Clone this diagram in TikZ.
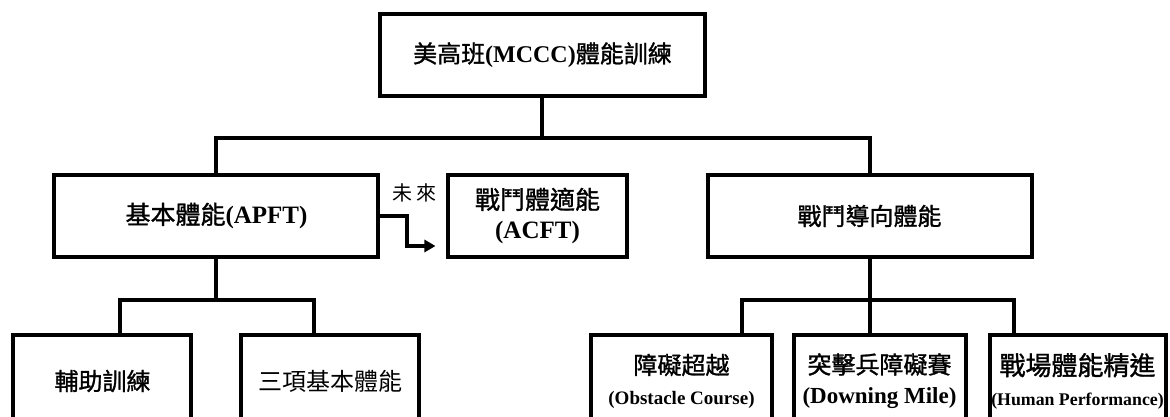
\documentclass[tikz,border=0pt]{standalone}
\usepackage{fontspec}
\setmainfont{Liberation Serif}
\newfontfamily\zhfont{Noto Sans CJK TC}[FakeBold=1.2]
\newfontfamily\zhlight{Noto Sans CJK TC}
\usepackage{tikz}
\usetikzlibrary{arrows.meta,positioning}
\definecolor{ink}{HTML}{000000}
\definecolor{paper}{HTML}{FFFFFF}
\tikzset{
  nodebox/.style={draw=ink, line width=4pt, inner sep=1pt, outer sep=0pt, minimum height=82pt, text=ink, fill=paper, align=center, font=\fontsize{24}{30}\selectfont},
  widebox/.style={nodebox, minimum width=324pt},
  slimbox/.style={nodebox, minimum width=178pt},
  leafbox/.style={slimbox, minimum height=92pt},
  conn/.style={line width=4pt, draw=ink},
  arr/.style={-{Triangle[length=11pt,width=12pt]}, line width=4pt, draw=ink}
}

\begin{document}
\begin{tikzpicture}[node distance=78pt and 22pt]
  \useasboundingbox (-542.5pt,55pt) rectangle (627.5pt,-362pt);
  \node[widebox, font=\fontsize{24}{30}\selectfont] (title) {{\zhfont 美高班}\textbf{(MCCC)}{\zhfont 體能訓練}};

  \node[widebox, below=79pt of title, xshift=-326pt, font=\fontsize{25}{30}\selectfont] (apft) {{\zhfont 基本體能}\textbf{(APFT)}};
  \node[slimbox, right=70pt of apft, font=\fontsize{25}{30}\selectfont] (acft) {{\zhfont 戰鬥體適能}\\\textbf{(ACFT)}};
  \node[widebox, right=329pt of apft] (combat) {{\zhfont 戰鬥導向體能}};

  \node[leafbox, below=78pt of apft, xshift=-114pt] (fuzhu) {{\zhfont 輔助訓練}};
  \node[leafbox, right=50pt of fuzhu] (sanxiang) {{\zhlight 三項基本體能}};

  \node[leafbox, minimum width=172pt, below=78pt of combat, xshift=10pt] (downing) {{\zhfont 突擊兵障礙賽}\\{\fontsize{23}{30}\selectfont\textbf{(Downing Mile)}}};
  \node[leafbox, minimum width=180pt, left=22pt of downing] (obstacle) {{\zhfont 障礙超越}\\{\fontsize{19}{30}\selectfont\textbf{(Obstacle Course)}}};
  \node[leafbox, minimum width=176pt, right=24pt of downing, font=\fontsize{26}{30}\selectfont] (human) {{\zhfont 戰場體能精進}\\{\fontsize{17.8}{30}\selectfont\textbf{(Human Performance)}}};

  \coordinate[below=42pt of title.south] (topbar);
  \draw[conn] (title.south) -- (topbar);
  \draw[conn] (apft.north) |- (topbar) -| (combat.north);

  \coordinate[below=43pt of apft.south] (leftbar);
  \draw[conn] (apft.south) -- (leftbar);
  \draw[conn] ([xshift=17.5pt]fuzhu.north) |- (leftbar) -| ([xshift=-16pt]sanxiang.north);

  \coordinate[below=43pt of combat.south] (rightbar);
  \draw[conn] (combat.south) -- (combat.south |- downing.north);
  \draw[conn] ([xshift=60pt]obstacle.north) |- (rightbar) -| ([xshift=-63.5pt]human.north);

  \draw[arr] (apft.east) -- ++(29pt,0) node[above=12pt, xshift=7.5pt, inner sep=0pt, font=\zhlight\fontsize{20}{24}\selectfont] (future) {未\hspace{4pt}來} |- ([xshift=-13pt,yshift=-30pt]acft.west);
\end{tikzpicture}
\end{document}
